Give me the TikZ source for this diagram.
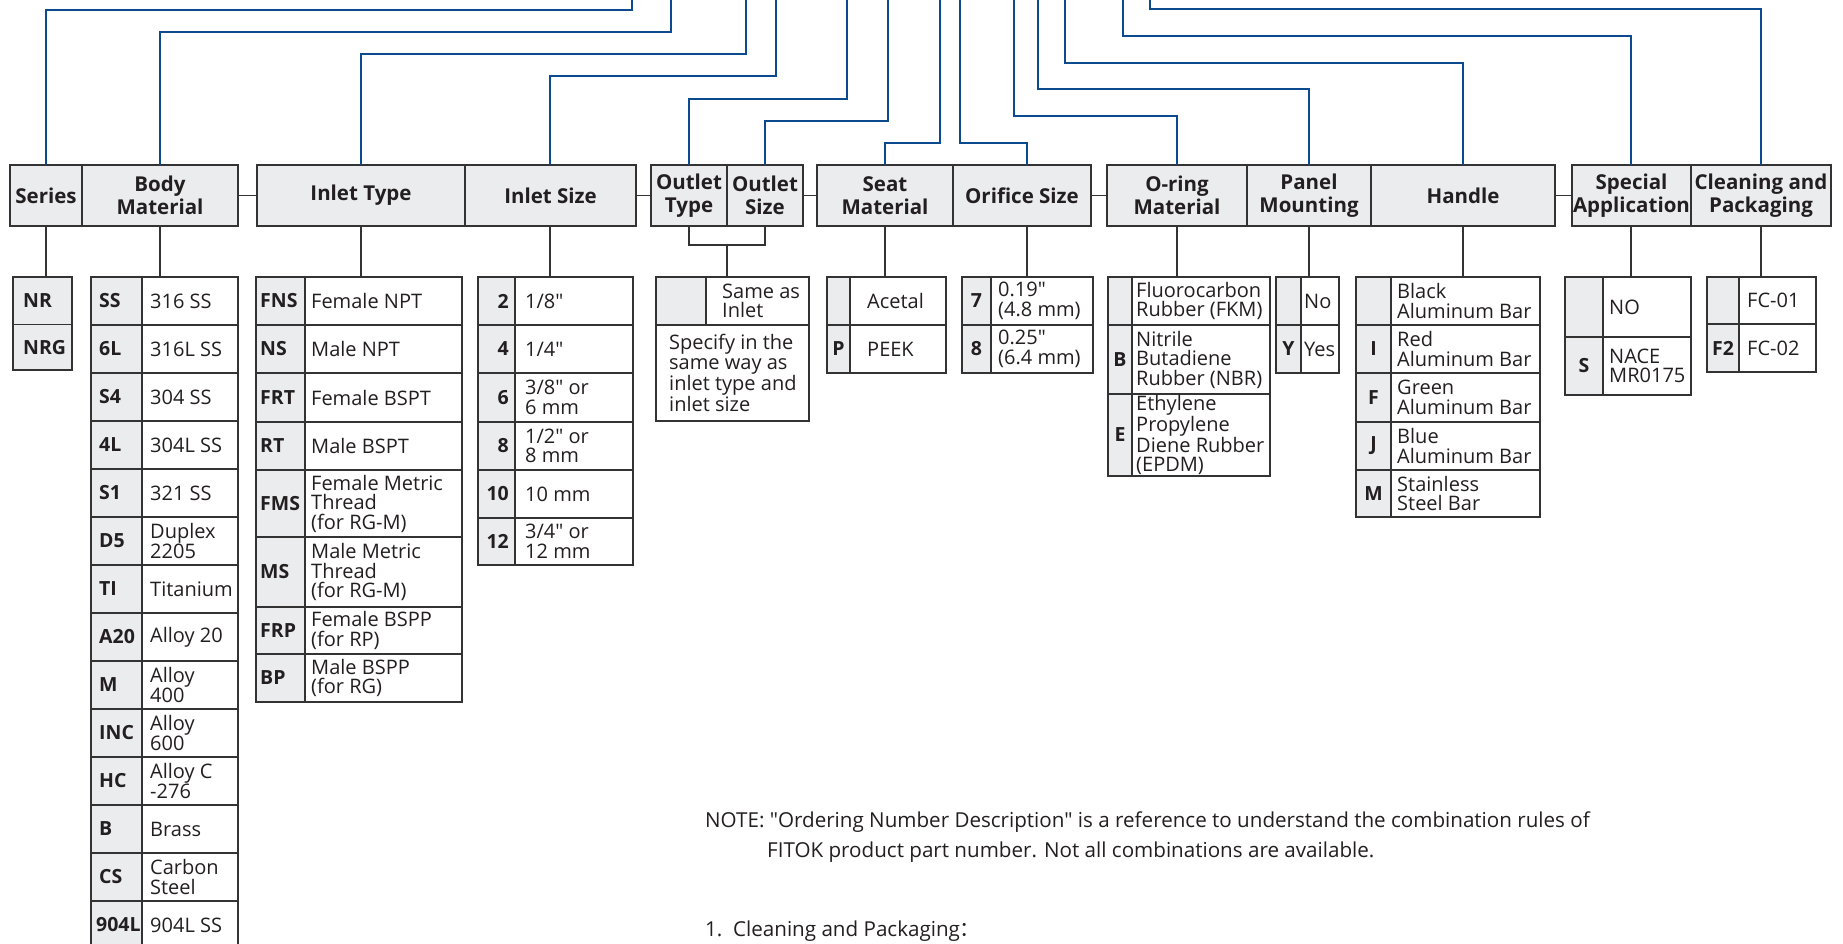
\documentclass[tikz,border=0pt]{standalone}
\usepackage{fontspec}
\setmainfont{Open Sans}[Ligatures=TeXOff]
\newfontfamily\cjk{Noto Sans CJK SC}
\definecolor{lnblue}{HTML}{0C4A8F}
\definecolor{gfill}{HTML}{EBECEE}
\definecolor{bcol}{HTML}{333333}
\definecolor{tcol}{HTML}{231F20}
\tikzset{
 bl/.style={draw=lnblue, line width=2.4pt, line join=miter},
 bx/.style={draw=bcol, line width=1.7pt},
 cn/.style={draw=bcol, line width=1.6pt},
 hdr/.style={draw=bcol, fill=gfill, line width=1.7pt, font=\bfseries\fontsize{20.5}{23}\selectfont, align=center, inner sep=0pt, outer sep=0pt, text=tcol, minimum height=61pt},
 tframe/.style={draw=bcol, line width=1.7pt, inner sep=0pt, outer sep=0pt},
 cd/.style={font=\bfseries\fontsize{19.5}{19.5}\selectfont, inner sep=0pt, text=tcol},
 vl/.style={font=\fontsize{20}{19.5}\selectfont, align=left, inner sep=0pt, anchor=west, text=tcol},
 nt/.style={font=\fontsize{20.6}{22}\selectfont, inner sep=0pt, anchor=west, text=tcol},
}
\newcommand\hd[4]{\node[hdr, minimum width={#3-#2}] (#1) at ({(#2+#3)/2},195.5) {#4};}
\newcommand\tbl[6]{%
 \fill[gfill] (#2,#5) rectangle (#3,#6);
 \draw[bx] (#3,#5) -- (#3,#6);
 \node[tframe, anchor=north west, minimum width={#4-#2}, minimum height={#6-#5}] (#1) at (#2,#5) {};}
\newcommand\hls[3]{\foreach \yy in {#3} {\draw[bx] (#1,\yy) -- (#2,\yy);}}
\newcommand\rw[8]{%
 \pgfmathsetmacro\ym{(#5+#6)/2}%
 \node[cd, anchor=#3] (#1c) at (#2,\ym) {#7};
 \node[vl] (#1v) at (#4,\ym) {#8};}
\newcommand\brw[4]{\pgfmathsetmacro\ya{277+48*#1}\pgfmathsetmacro\yb{\ya+48}\rw{b#1}{#4}{west}{150}{\ya}{\yb}{#2}{#3}}
\begin{document}
\begin{tikzpicture}[x=1pt,y=-1pt]
\clip (0,0) rectangle (1843,944);
\fill[white] (0,0) rectangle (1843,944);
% headers
\hd{hSer}{10}{82}{Series}
\hd{hBod}{82}{238}{Body\\Material}
\hd{hIT}{257}{465}{Inlet Type}
\hd{hIS}{465}{636}{Inlet Size}
\hd{hOT}{651}{727}{Outlet\\Type}
\hd{hOS}{727}{803}{Outlet\\Size}
\hd{hSea}{817}{953}{Seat\\Material}
\hd{hOri}{953}{1091}{Orifice Size}
\hd{hOr}{1107}{1247}{O-ring\\Material}
\hd{hPan}{1247}{1371}{Panel\\Mounting}
\hd{hHan}{1371}{1555}{Handle}
\hd{hSpe}{1572}{1691}{Special\\Application}
\hd{hCle}{1691}{1831}{Cleaning and\\Packaging}
% group connectors
\draw[cn] (hBod.east) -- (hIT.west);
\draw[cn] (hIS.east) -- (hOT.west);
\draw[cn] (hOS.east) -- (hSea.west);
\draw[cn] (hOri.east) -- (hOr.west);
\draw[cn] (hHan.east) -- (hSpe.west);
% tables
\tbl{tSer}{13}{72}{72}{277}{370}
\hls{13}{72}{324.5}
\rw{s1}{23}{west}{23}{277}{324.5}{NR}{}
\rw{s2}{23}{west}{23}{324.5}{370}{NRG}{}
\tbl{tBod}{91}{142}{238}{277}{949}
\hls{91}{238}{325,373,...,901}
\brw{0}{SS}{316 SS}{99}
\brw{1}{6L}{316L SS}{99}
\brw{2}{S4}{304 SS}{99}
\brw{3}{4L}{304L SS}{99}
\brw{4}{S1}{321 SS}{99}
\brw{5}{D5}{Duplex\\2205}{99}
\brw{6}{TI}{Titanium}{99}
\brw{7}{A20}{Alloy 20}{99}
\brw{8}{M}{Alloy\\400}{99}
\brw{9}{INC}{Alloy\\600}{99}
\brw{10}{HC}{Alloy C\\-276}{99}
\brw{11}{B}{Brass}{99}
\brw{12}{CS}{Carbon\\Steel}{99}
\brw{13}{904L}{904L SS}{96}
\tbl{tIT}{256}{305}{462}{277}{702}
\hls{256}{462}{325,373,422,470,537,607,654}
\rw{i1}{260}{west}{311}{277}{325}{FNS}{Female NPT}
\rw{i2}{260}{west}{311}{325}{373}{NS}{Male NPT}
\rw{i3}{260}{west}{311}{373}{422}{FRT}{Female BSPT}
\rw{i4}{260}{west}{311}{422}{470}{RT}{Male BSPT}
\rw{i5}{260}{west}{311}{470}{537}{FMS}{Female Metric\\Thread\\(for RG-M)}
\rw{i6}{260}{west}{311}{537}{607}{MS}{Male Metric\\Thread\\(for RG-M)}
\rw{i7}{260}{west}{311}{607}{654}{FRP}{Female BSPP\\(for RP)}
\rw{i8}{260}{west}{311}{654}{702}{BP}{Male BSPP\\(for RG)}
\tbl{tIS}{478}{515}{633}{277}{565}
\hls{478}{633}{325,373,422,470,518}
\rw{z1}{509}{east}{525}{277}{325}{2}{1/8"}
\rw{z2}{509}{east}{525}{325}{373}{4}{1/4"}
\rw{z3}{509}{east}{525}{373}{422}{6}{3/8" or\\6 mm}
\rw{z4}{509}{east}{525}{422}{470}{8}{1/2" or\\8 mm}
\rw{z5}{509}{east}{525}{470}{518}{10}{10 mm}
\rw{z6}{509}{east}{525}{518}{565}{12}{3/4" or\\12 mm}
% outlet table
\fill[gfill] (656,277) rectangle (706,325);
\draw[bx] (706,277) -- (706,325);
\draw[bx] (656,325) -- (809,325);
\node[tframe, anchor=north west, minimum width=153pt, minimum height=144pt] (tOut) at (656,277) {};
\node[vl] (o1) at (722,301) {Same as\\Inlet};
\node[vl] (o2) at (669,373) {Specify in the\\same way as\\inlet type and\\inlet size};
% seat
\tbl{tSea}{827}{850}{946}{277}{373}
\hls{827}{946}{325}
\rw{e1}{838.5}{center}{867}{277}{325}{}{Acetal}
\rw{e2}{838.5}{center}{867}{325}{373}{P}{PEEK}
% orifice
\tbl{tOri}{962}{991}{1093}{277}{373}
\hls{962}{1093}{325}
\rw{f1}{976.5}{center}{998}{277}{325}{7}{0.19"\\(4.8 mm)}
\rw{f2}{976.5}{center}{998}{325}{373}{8}{0.25"\\(6.4 mm)}
% o-ring
\tbl{tOr}{1108}{1132}{1270}{277}{476}
\hls{1108}{1270}{325,394}
\rw{r1}{1120}{center}{1136}{277}{325}{}{Fluorocarbon\\Rubber (FKM)}
\rw{r2}{1120}{center}{1136}{325}{394}{B}{Nitrile\\Butadiene\\Rubber (NBR)}
\rw{r3}{1120}{center}{1136}{394}{476}{E}{Ethylene\\Propylene\\Diene Rubber\\(EPDM)}
% panel
\tbl{tPan}{1276}{1301}{1339}{277}{373}
\hls{1276}{1339}{325}
\rw{p1}{1288.5}{center}{1304}{277}{325}{}{No}
\rw{p2}{1288.5}{center}{1304}{325}{373}{Y}{Yes}
% handle
\tbl{tHan}{1356}{1391}{1540}{277}{517}
\hls{1356}{1540}{325,373,422,470}
\rw{h1}{1373.5}{center}{1397}{277}{325}{}{Black\\Aluminum Bar}
\rw{h2}{1373.5}{center}{1397}{325}{373}{I}{Red\\Aluminum Bar}
\rw{h3}{1373.5}{center}{1397}{373}{422}{F}{Green\\Aluminum Bar}
\rw{h4}{1373.5}{center}{1397}{422}{470}{J}{Blue\\Aluminum Bar}
\rw{h5}{1373.5}{center}{1397}{470}{517}{M}{Stainless\\Steel Bar}
% special
\tbl{tSpe}{1565}{1603}{1691}{277}{395}
\hls{1565}{1691}{337}
\rw{a1}{1584}{center}{1609}{277}{337}{}{NO}
\rw{a2}{1584}{center}{1609}{337}{395}{S}{NACE\\MR0175}
% cleaning
\tbl{tCle}{1707}{1739}{1816}{277}{372}
\hls{1707}{1816}{324}
\rw{c1}{1723}{center}{1747}{277}{324}{}{FC-01}
\rw{c2}{1723}{center}{1747}{324}{372}{F2}{FC-02}
% black connectors header -> table
\draw[cn] (hSer.south) -- (hSer.south |- tSer.north);
\draw[cn] (hBod.south) -- (hBod.south |- tBod.north);
\draw[cn] (hIT.south) -- (hIT.south |- tIT.north);
\draw[cn] ([xshift=-0.5pt]hIS.south) -- ([xshift=-0.5pt]hIS.south |- tIS.north);
\coordinate (oj) at (727,245);
\draw[cn] (hOT.south) |- (oj) -| (hOS.south);
\draw[cn] (oj) -- (oj |- tOut.north);
\draw[cn] (hSea.south) -- (hSea.south |- tSea.north);
\draw[cn] ([xshift=-0.5pt]tOri.north |- hOri.south) -- ([xshift=-0.5pt]tOri.north);
\draw[cn] (hOr.south) -- (hOr.south |- tOr.north);
\draw[cn] (hPan.south) -- (hPan.south |- tPan.north);
\draw[cn] (hHan.south) -- (hHan.south |- tHan.north);
\draw[cn] ([xshift=-0.5pt]hSpe.south) -- ([xshift=-0.5pt]hSpe.south |- tSpe.north);
\draw[cn] (hCle.south) -- (hCle.south |- tCle.north);
% blue lines
\coordinate (k1) at (632,10);   \coordinate (e1) at (632,-5);
\coordinate (k2) at (671,32);   \coordinate (e2) at (671,-5);
\coordinate (k3) at (746,54);   \coordinate (e3) at (746,-5);
\coordinate (k4) at (776,76);   \coordinate (e4) at (776,-5);
\coordinate (k5) at (847,99);   \coordinate (e5) at (847,-5);
\coordinate (k6) at (888,121);  \coordinate (e6) at (888,-5);
\coordinate (k7) at (940,143);  \coordinate (e7) at (940,-5);
\coordinate (k8) at (960,143);  \coordinate (e8) at (960,-5);
\coordinate (k9) at (1014,116); \coordinate (e9) at (1014,-5);
\coordinate (k10) at (1038,89); \coordinate (e10) at (1038,-5);
\coordinate (k11) at (1065,63); \coordinate (e11) at (1065,-5);
\coordinate (k12) at (1123,36); \coordinate (e12) at (1123,-5);
\coordinate (k13) at (1150,9);  \coordinate (e13) at (1150,-5);
\draw[bl] (hSer.north) |- (k1) -- (e1);
\draw[bl] (hBod.north) |- (k2) -- (e2);
\draw[bl] (hIT.north) |- (k3) -- (e3);
\draw[bl] ([xshift=-0.5pt]hIS.north) |- (k4) -- (e4);
\draw[bl] (hOT.north) |- (k5) -- (e5);
\draw[bl] (hOS.north) |- (k6) -- (e6);
\draw[bl] (hSea.north) |- (k7) -- (e7);
\draw[bl] ([xshift=-0.5pt]tOri.north |- hOri.north) |- (k8) -- (e8);
\draw[bl] (hOr.north) |- (k9) -- (e9);
\draw[bl] (hPan.north) |- (k10) -- (e10);
\draw[bl] (hHan.north) |- (k11) -- (e11);
\draw[bl] ([xshift=-0.5pt]hSpe.north) |- (k12) -- (e12);
\draw[bl] (hCle.north) |- (k13) -- (e13);
% notes
\node[nt] (note1) at (705,822) {NOTE: "Ordering Number Description" is a reference to understand the combination rules of};
\node[nt] (note2) at (767,852) {FITOK product part number. Not all combinations are available.};
\node[nt] (note3) at (705,931) {1.\ \ Cleaning and Packaging{\cjk ：}};
\end{tikzpicture}
\end{document}
